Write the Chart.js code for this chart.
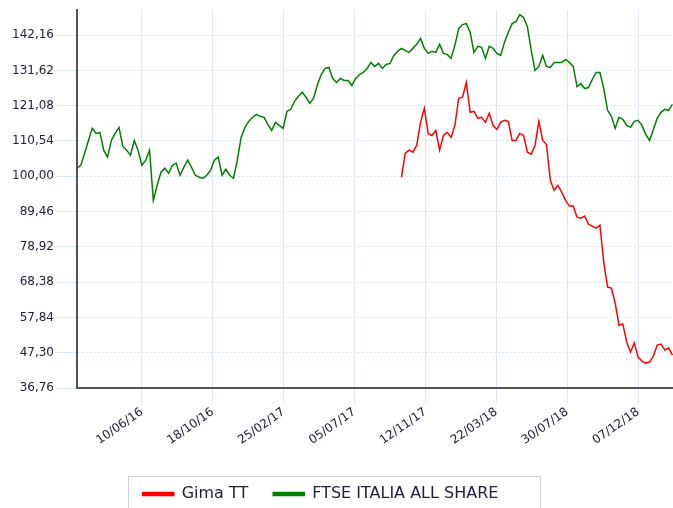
<!DOCTYPE html>
<html lang="it">
  <head>
    <meta charset="UTF-8">
    <title>Gima TT vs FTSE Italia All Share</title>
    <script src="https://cdn.jsdelivr.net/npm/chart.js"></script>
    <style>
      body { margin: 0; background: #ffffff; }
      #chart { display: block; }
    </style>
  </head>
  <body>
    <canvas id="chart" width="673" height="508"></canvas>

    <script>
      // weekly closes, rebased to 100
      const ftseStart = "2016-02-12";
      const ftse = [
        102.4, 103.3, 106.9, 110.7, 114.3, 112.8, 113.1, 107.8, 105.7, 110.7,
        112.8, 114.6, 108.9, 107.8, 106.3, 110.7, 107.8, 103.3, 104.8, 107.8,
        92.8, 97.3, 101.2, 102.4, 100.9, 103.3, 103.9, 100.3, 102.7, 104.8,
        102.7, 100.3, 99.7, 99.4, 100.3, 101.8, 104.8, 105.7, 100.3, 102.1,
        100.3, 99.4, 104.8, 111.6, 114.6, 116.4, 117.6, 118.5, 117.9, 117.6,
        115.5, 113.7, 116.1, 115.2, 114.3, 119.4, 120.0, 122.4, 123.9, 125.1,
        123.6, 121.8, 123.3, 127.4, 130.4, 132.2, 132.5, 129.2, 128.0, 129.2,
        128.6, 128.6, 127.1, 129.2, 130.4, 131.0, 132.2, 134.0, 132.8, 133.7,
        132.2, 133.4, 133.7, 136.1, 137.3, 138.2, 137.6, 137.0, 138.2, 139.4,
        141.2, 138.2, 136.7, 137.3, 137.0, 139.4, 136.7, 136.4, 135.2, 139.1,
        144.1, 145.3, 145.6, 143.0, 137.0, 138.8, 138.5, 135.2, 138.8, 138.2,
        136.7, 136.1, 140.0, 143.0, 145.6, 146.2, 148.3, 147.4, 144.7, 137.6,
        131.6, 132.8, 136.1, 132.8, 132.5, 134.0, 134.0, 134.0, 134.9, 134.0,
        132.8, 126.8, 127.7, 126.2, 126.5, 128.9, 131.0, 131.0, 126.2, 119.7,
        117.9, 114.3, 117.6, 117.0, 115.2, 114.6, 116.4, 116.7, 115.2, 112.5,
        110.7, 114.0, 117.3, 119.1, 120.0, 119.7, 121.5
      ];

      const gimaStart = "2017-09-29";
      const gima = [
        99.7, 106.9, 107.8, 107.2, 109.3, 116.1, 120.3, 112.8, 112.2, 113.7,
        107.8, 112.2, 113.1, 111.6, 115.2, 123.3, 123.6, 128.0, 119.1, 119.4,
        117.3, 117.6, 116.1, 118.8, 115.2, 114.0, 116.1, 116.7, 116.4, 110.7,
        110.7, 112.8, 112.2, 107.2, 106.6, 109.2, 116.4, 110.7, 109.5, 98.8,
        95.8, 97.3, 95.2, 92.8, 91.1, 91.1, 87.8, 87.5, 88.1, 85.7,
        85.1, 84.5, 85.4, 74.3, 66.9, 66.6, 62.1, 55.5, 55.9, 50.5,
        47.5, 50.2, 46.0, 44.8, 44.2, 44.5, 46.3, 49.6, 49.9, 48.1,
        48.7, 46.6
      ];

      const xTickDates = [
        "2016-06-10", "2016-10-18", "2017-02-25", "2017-07-05",
        "2017-11-12", "2018-03-22", "2018-07-30", "2018-12-07"
      ];
      const yTickValues = [
        36.76, 47.30, 57.84, 68.38, 78.92, 89.46,
        100.00, 110.54, 121.08, 131.62, 142.16
      ];

      const font = "DejaVu Sans";
      const textColor = "#22223a";
      const gridColor = "#dbe7f6";
      const axisColor = "#555555";

      function toDay(s) {
        return Date.parse(s + "T00:00:00Z") / 864e5;
      }
      function dayLabel(d) {
        const dt = new Date(d * 864e5);
        const dd = String(dt.getUTCDate()).padStart(2, "0");
        const mm = String(dt.getUTCMonth() + 1).padStart(2, "0");
        const yy = String(dt.getUTCFullYear()).slice(2);
        return dd + "/" + mm + "/" + yy;
      }
      function weekly(start, values) {
        const d0 = toDay(start);
        return values.map((v, i) => ({ x: d0 + 7 * i, y: v }));
      }

      const ftsePoints = weekly(ftseStart, ftse);
      const gimaPoints = weekly(gimaStart, gima);
      const xMin = toDay(ftseStart);
      const xMax = ftsePoints[ftsePoints.length - 1].x + 1;

      // nudge the legend a bit left/down, then frame it in light grey
      const legendFrame = {
        id: "legendFrame",
        afterLayout(chart) {
          const lg = chart.legend;
          lg.left -= 16;
          lg.right -= 16;
          lg.top += 4;
          lg.bottom += 4;
        },
        afterDraw(chart) {
          const boxes = chart.legend.legendHitBoxes;
          if (!boxes || !boxes.length) return;
          const first = boxes[0];
          const last = boxes[boxes.length - 1];
          const cy = first.top + first.height / 2;
          const left = Math.round(first.left - 15) + 0.5;
          const right = Math.round(last.left + last.width + 42) + 0.5;
          const ctx = chart.ctx;
          ctx.save();
          ctx.strokeStyle = "#cfcfcf";
          ctx.lineWidth = 1;
          ctx.strokeRect(left, Math.round(cy - 18) + 0.5, right - left, 60);
          ctx.restore();
        },
      };

      new Chart(document.getElementById("chart"), {
        type: "line",
        data: {
          datasets: [
            {
              label: "Gima TT",
              data: gimaPoints,
              borderColor: "#ff0000",
              backgroundColor: "#ff0000",
              borderWidth: 1.5,
              pointRadius: 0,
              tension: 0,
            },
            {
              label: "FTSE ITALIA ALL SHARE",
              data: ftsePoints,
              borderColor: "#008000",
              backgroundColor: "#008000",
              borderWidth: 1.5,
              pointRadius: 0,
              tension: 0,
            },
          ],
        },
        options: {
          responsive: false,
          animation: false,
          layout: { padding: { top: 10, left: 0, right: 0, bottom: 0 } },
          plugins: {
            tooltip: { enabled: false },
            legend: {
              position: "bottom",
              labels: {
                boxWidth: 31,
                boxHeight: 3,
                padding: 25,
                color: textColor,
                font: { family: font, size: 16 },
              },
            },
          },
          scales: {
            x: {
              type: "linear",
              min: xMin,
              max: xMax,
              afterBuildTicks: (s) => {
                s.ticks = xTickDates.map((t) => ({ value: toDay(t) }));
              },
              afterFit: (s) => {
                s.height = 69;
              },
              grid: { color: gridColor, lineWidth: 1, tickLength: 15 },
              border: { color: axisColor, width: 2 },
              ticks: {
                autoSkip: false,
                minRotation: 35,
                maxRotation: 35,
                padding: 2,
                color: textColor,
                font: { family: font, size: 12 },
                callback: (v) => dayLabel(v),
              },
            },
            y: {
              min: 36.76,
              max: 149.6,
              afterBuildTicks: (s) => {
                s.ticks = yTickValues.map((v) => ({ value: v }));
              },
              afterFit: (s) => {
                s.width = 77;
              },
              grid: { color: gridColor, lineWidth: 1, tickLength: 20 },
              border: { color: axisColor, width: 2, dash: [2, 2] },
              ticks: {
                padding: 3,
                color: textColor,
                font: { family: font, size: 12 },
                callback: (v) => v.toFixed(2).replace(".", ","),
              },
            },
          },
        },
        plugins: [legendFrame],
      });
    </script>
  </body>
</html>
